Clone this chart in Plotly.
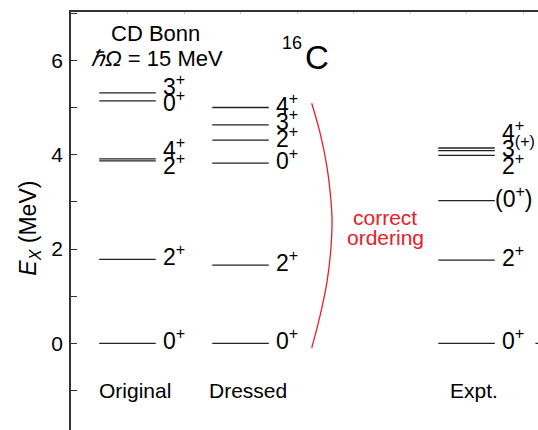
import plotly.graph_objects as go

# ---------------- data ----------------
columns = ["Original", "Dressed", "Expt."]
col_x = [1.0, 3.0, 7.0]

orig_E = [0.0, 1.78, 3.87, 3.91, 5.14, 5.31]
orig_J = ["0+", "2+", "2+", "4+", "0+", "3+"]

dress_E = [0.0, 1.66, 3.82, 4.31, 4.63, 5.00]
dress_J = ["0+", "2+", "0+", "2+", "3+", "4+"]

expt_E = [0.0, 1.766, 3.027, 3.986, 4.088, 4.142]
expt_J = ["0+", "2+", "(0+)", "2+", "3(+)", "4+"]

# level of a further column, only its start is visible at the right edge
extra_x = 8.72
extra_E = [0.0]

# red "correct ordering" arc (x in column units, y in MeV)
arc_x = [4.26, 4.41, 4.53, 4.60, 4.62, 4.60, 4.53, 4.41, 4.26]
arc_E = [5.09, 4.45, 3.74, 3.03, 2.61, 2.02, 1.30, 0.60, -0.10]

y_ticks = [0, 2, 4, 6]
x_range = [0, 8.265]
y_range = [-1.837, 7.025]

FONT = "Liberation Sans, Arial, Helvetica, sans-serif"
LVL_COLOR = "#222222"
RED = "#e8202a"


def jp_html(j):
    # turn '3(+)' / '0+' / '(0+)' into html with superscript parity
    if j.startswith("("):
        return "(" + jp_html(j[1:-1]) + ")"
    if j.endswith("(+)"):
        return j[:-3] + "<sup>(+)</sup>"
    return j[:-1] + "<sup>" + j[-1] + "</sup>"


def spread(vals, gap):
    order = sorted(range(len(vals)), key=lambda i: vals[i])
    clusters = [[i] for i in order]

    def place(c):
        m = sum(vals[i] for i in c) / len(c)
        s = m - gap * (len(c) - 1) / 2
        return [s + gap * k for k in range(len(c))]

    changed = True
    while changed:
        changed = False
        for k in range(len(clusters) - 1):
            a = place(clusters[k])
            b = place(clusters[k + 1])
            if b[0] - a[-1] < gap:
                clusters[k] = clusters[k] + clusters[k + 1]
                del clusters[k + 1]
                changed = True
                break
    out = [0.0] * len(vals)
    for c in clusters:
        for i, p in zip(c, place(c)):
            out[i] = p
    return out


fig = go.Figure()

all_levels = [orig_E, dress_E, expt_E]
all_J = [orig_J, dress_J, expt_J]
half_w = 0.5

annotations = []
for cx, E, J in zip(col_x, all_levels, all_J):
    xs, ys = [], []
    for e in E:
        xs += [cx - half_w, cx + half_w, None]
        ys += [e, e, None]
    fig.add_trace(go.Scatter(x=xs, y=ys, mode="lines",
                             line=dict(color=LVL_COLOR, width=1.3),
                             hoverinfo="skip", showlegend=False))
    ly = spread(E, 0.35)
    for j, yv in zip(J, ly):
        annotations.append(dict(
            x=cx + 0.6, y=yv, xref="x", yref="y", text=jp_html(j),
            showarrow=False, xanchor="left", yanchor="middle",
            xshift=-7 if j.startswith("(") else 0, yshift=4,
            font=dict(family=FONT, size=23, color="black")))

# partially visible level of a further column
xs, ys = [], []
for e in extra_E:
    xs += [extra_x - half_w, extra_x + half_w, None]
    ys += [e, e, None]
fig.add_trace(go.Scatter(x=xs, y=ys, mode="lines",
                         line=dict(color=LVL_COLOR, width=1.3),
                         hoverinfo="skip", showlegend=False))

# red arc
fig.add_trace(go.Scatter(x=arc_x, y=arc_E, mode="lines",
                         line=dict(color=RED, width=1.3, shape="spline", smoothing=1.0),
                         hoverinfo="skip", showlegend=False))

# column labels
for cx, name in zip(col_x, columns):
    annotations.append(dict(x=cx + 0.13, y=-1.0, xref="x", yref="y", text=name,
                            showarrow=False, xanchor="center", yanchor="middle",
                            font=dict(family=FONT, size=21, color="black")))

# header texts
annotations += [
    dict(x=1.5, y=6.57, xref="x", yref="y", text="CD Bonn", showarrow=False,
         xanchor="center", yanchor="middle", font=dict(family=FONT, size=22, color="black")),
    dict(x=1.53, y=6.04, xref="x", yref="y", text="<i>ℏΩ</i> = 15 MeV", showarrow=False,
         xanchor="center", yanchor="middle", font=dict(family=FONT, size=22, color="black")),
    dict(x=4.12, y=6.36, xref="x", yref="y", text="16", showarrow=False,
         xanchor="right", yanchor="middle", font=dict(family=FONT, size=18, color="black")),
    dict(x=4.10, y=6.07, xref="x", yref="y", text="C", showarrow=False,
         xanchor="left", yanchor="middle", font=dict(family=FONT, size=33, color="black")),
    dict(x=5.56, y=2.67, xref="x", yref="y", text="correct", showarrow=False,
         xanchor="center", yanchor="middle", font=dict(family=FONT, size=21, color=RED)),
    dict(x=5.56, y=2.25, xref="x", yref="y", text="ordering", showarrow=False,
         xanchor="center", yanchor="middle", font=dict(family=FONT, size=21, color=RED)),
    dict(x=-0.088, y=2.45, xref="paper", yref="y", text="<i>E</i><sub><i>X</i></sub> (MeV)",
         showarrow=False, textangle=-90, xanchor="center", yanchor="middle",
         font=dict(family=FONT, size=23, color="black")),
]

fig.update_layout(
    width=538, height=430,
    margin=dict(l=71, r=0, t=12, b=0),
    paper_bgcolor="white", plot_bgcolor="white",
    showlegend=False,
    annotations=annotations,
    xaxis=dict(range=x_range, side="top", showline=True, linecolor="#333", linewidth=1.5,
               showgrid=False, zeroline=False, showticklabels=False,
               ticks="inside", ticklen=2, tickcolor="#cccccc", dtick=1, tick0=0),
    yaxis=dict(range=y_range, showline=True, linecolor="#333", linewidth=1.5,
               showgrid=False, zeroline=False, tickvals=y_ticks,
               ticks="inside", ticklen=4, tickcolor="#333", tickwidth=1.2,
               ticklabelstandoff=2,
               tickfont=dict(family=FONT, size=21, color="black"),
               minor=dict(dtick=1, tick0=1, ticks="inside", ticklen=6,
                          tickcolor="#333", tickwidth=1.2)),
)

fig.write_html("out.html")
